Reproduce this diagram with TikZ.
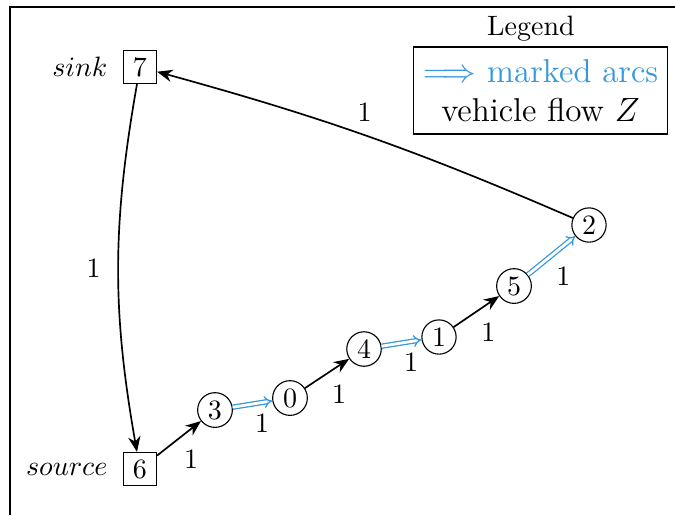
\documentclass[tikz,border=0pt]{standalone}
\usepackage{amsmath,amssymb}
\usepackage{xcolor}
\usetikzlibrary{arrows.meta,positioning}
\definecolor{markblue}{RGB}{52,152,219}

\begin{document}
\begin{tikzpicture}[x=0.357pt, y=-0.357pt,
  station/.style={draw, circle, inner sep=1.4pt, minimum size=11.5pt},
  depot/.style={draw, rectangle, inner sep=2pt, minimum size=11.8pt},
  flowarc/.style={-{Stealth[length=5.5pt, width=4.4pt]}, semithick},
  markarc/.style={-{Implies}, markblue, double, line width=0.45pt, double distance=1pt},
  flowlabel/.style={pos=0.42, auto, swap, inner sep=2.8pt, text=black}]
  \useasboundingbox (0,0) rectangle (675,515);
  \draw[line width=0.6pt] (10,515) -- (10,7) -- (675,7);
  % nodes
  \node[depot] (n7) at (140,67) {7};
  \node[depot] (n6) at (140,469) {6};
  \node[left=2pt of n7] (sinklab) {$sink$};
  \node[left=2pt of n6] (sourcelab) {$source$};
  \node[station] (n3) at (215,410) {3};
  \node[station] (n0) at (290,398) {0};
  \node[station] (n4) at (364,349) {4};
  \node[station] (n1) at (439,337) {1};
  \node[station] (n5) at (514,286) {5};
  \node[station] (n2) at (589,225) {2};
  % arcs
  \draw[flowarc] (n6) -- (n3) node[flowlabel] {1};
  \draw[markarc] (n3) -- (n0) node[flowlabel, pos=0.35] {1};
  \draw[flowarc] (n0) -- (n4) node[flowlabel] {1};
  \draw[markarc] (n4) -- (n1) node[flowlabel, pos=0.35] {1};
  \draw[flowarc] (n1) -- (n5) node[flowlabel] {1};
  \draw[markarc] (n5) -- (n2) node[flowlabel] {1};
  \draw[flowarc] (n2) to[bend right=4] node[flowlabel, pos=0.55] {1} (n7);
  \draw[flowarc] (n7) to[bend right=10] node[flowlabel, pos=0.5, inner sep=6pt] {1} (n6);
  % legend
  \node (legtitle) at (531,29) {Legend};
  \node[draw, semithick, minimum width=90pt, minimum height=31pt, align=center,
        font=\fontsize{11.8}{14}\selectfont] (legend) at (540.5,90.5)
        {\textcolor{markblue}{$\Longrightarrow$ marked arcs}\\ vehicle flow $Z$};
\end{tikzpicture}
\end{document}
